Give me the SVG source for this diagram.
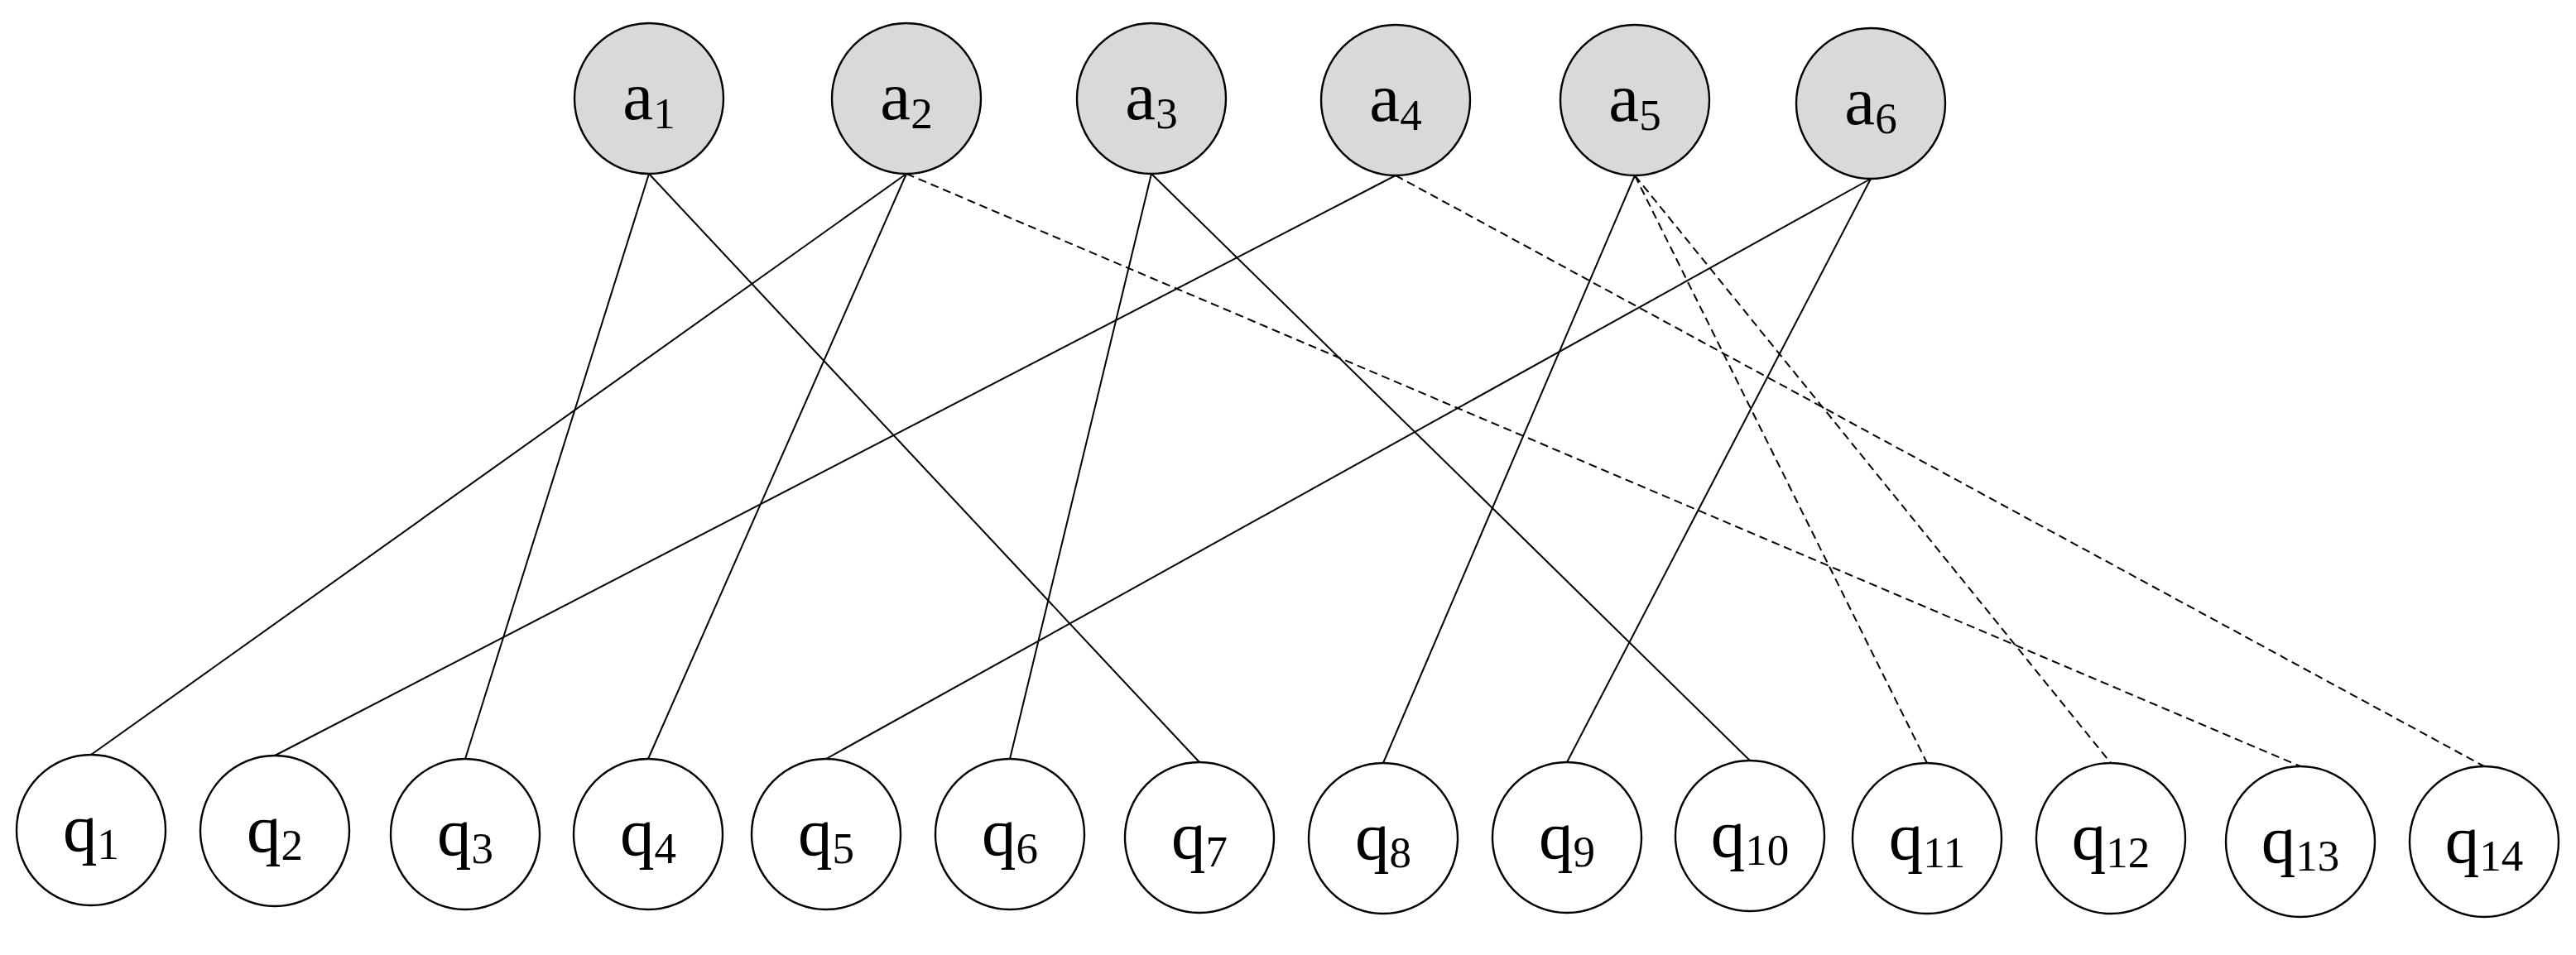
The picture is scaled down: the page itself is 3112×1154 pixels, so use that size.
<svg xmlns="http://www.w3.org/2000/svg" width="3112" height="1154" viewBox="0 0 3112 1154">
<style>
.bg{fill:#ffffff}
.a{fill:#d9d9d9;stroke:#000;stroke-width:2.4}
.q{fill:#ffffff;stroke:#000;stroke-width:2.4}
.lbl{font-family:"Liberation Serif","Times New Roman",serif;font-size:83px;fill:#000;text-anchor:middle}
.sub{font-size:53px}
.e{stroke:#000;stroke-width:2;fill:none}
.d{stroke:#000;stroke-width:2;fill:none;stroke-dasharray:10 6}
</style>
<rect class="bg" x="0" y="0" width="3112" height="1154"/>
<g id="connectors">
<line class="e" x1="784" y1="210" x2="562" y2="917"/>
<line class="e" x1="784" y1="210" x2="1449" y2="921"/>
<line class="e" x1="1095" y1="210" x2="110" y2="912"/>
<line class="e" x1="1095" y1="210" x2="783" y2="917"/>
<line class="d" x1="1095" y1="210" x2="2779" y2="926"/>
<line class="e" x1="1391" y1="210" x2="1220" y2="917"/>
<line class="e" x1="1391" y1="210" x2="2114" y2="919"/>
<line class="e" x1="1686" y1="212" x2="332" y2="913"/>
<line class="d" x1="1686" y1="212" x2="3001" y2="926"/>
<line class="e" x1="1975" y1="212" x2="1671" y2="922"/>
<line class="d" x1="1975" y1="212" x2="2328" y2="922"/>
<line class="d" x1="1975" y1="212" x2="2550" y2="922"/>
<line class="e" x1="2260" y1="216" x2="998" y2="917"/>
<line class="e" x1="2260" y1="216" x2="1893" y2="921"/>
</g>
<g id="a1"><ellipse class="a" cx="784" cy="119" rx="90" ry="91"/><text class="lbl" x="784" y="144">a<tspan class="sub" dy="11">1</tspan></text></g>
<g id="a2"><ellipse class="a" cx="1095" cy="119" rx="90" ry="91"/><text class="lbl" x="1095" y="144">a<tspan class="sub" dy="11">2</tspan></text></g>
<g id="a3"><ellipse class="a" cx="1391" cy="119" rx="90" ry="91"/><text class="lbl" x="1391" y="144">a<tspan class="sub" dy="11">3</tspan></text></g>
<g id="a4"><ellipse class="a" cx="1686" cy="121" rx="90" ry="91"/><text class="lbl" x="1686" y="146">a<tspan class="sub" dy="11">4</tspan></text></g>
<g id="a5"><ellipse class="a" cx="1975" cy="121" rx="90" ry="91"/><text class="lbl" x="1975" y="146">a<tspan class="sub" dy="11">5</tspan></text></g>
<g id="a6"><ellipse class="a" cx="2260" cy="125" rx="90" ry="91"/><text class="lbl" x="2260" y="150">a<tspan class="sub" dy="11">6</tspan></text></g>
<g id="q1"><ellipse class="q" cx="110" cy="1003" rx="90" ry="91"/><text class="lbl" x="110" y="1028">q<tspan class="sub" dy="10">1</tspan></text></g>
<g id="q2"><ellipse class="q" cx="332" cy="1004" rx="90" ry="91"/><text class="lbl" x="332" y="1029">q<tspan class="sub" dy="10">2</tspan></text></g>
<g id="q3"><ellipse class="q" cx="562" cy="1008" rx="90" ry="91"/><text class="lbl" x="562" y="1033">q<tspan class="sub" dy="10">3</tspan></text></g>
<g id="q4"><ellipse class="q" cx="783" cy="1008" rx="90" ry="91"/><text class="lbl" x="783" y="1033">q<tspan class="sub" dy="10">4</tspan></text></g>
<g id="q5"><ellipse class="q" cx="998" cy="1008" rx="90" ry="91"/><text class="lbl" x="998" y="1033">q<tspan class="sub" dy="10">5</tspan></text></g>
<g id="q6"><ellipse class="q" cx="1220" cy="1008" rx="90" ry="91"/><text class="lbl" x="1220" y="1033">q<tspan class="sub" dy="10">6</tspan></text></g>
<g id="q7"><ellipse class="q" cx="1449" cy="1012" rx="90" ry="91"/><text class="lbl" x="1449" y="1037">q<tspan class="sub" dy="10">7</tspan></text></g>
<g id="q8"><ellipse class="q" cx="1671" cy="1013" rx="90" ry="91"/><text class="lbl" x="1671" y="1038">q<tspan class="sub" dy="10">8</tspan></text></g>
<g id="q9"><ellipse class="q" cx="1893" cy="1012" rx="90" ry="91"/><text class="lbl" x="1893" y="1037">q<tspan class="sub" dy="10">9</tspan></text></g>
<g id="q10"><ellipse class="q" cx="2114" cy="1010" rx="90" ry="91"/><text class="lbl" x="2114" y="1035">q<tspan class="sub" dy="10">10</tspan></text></g>
<g id="q11"><ellipse class="q" cx="2328" cy="1013" rx="90" ry="91"/><text class="lbl" x="2328" y="1038">q<tspan class="sub" dy="10">11</tspan></text></g>
<g id="q12"><ellipse class="q" cx="2550" cy="1013" rx="90" ry="91"/><text class="lbl" x="2550" y="1038">q<tspan class="sub" dy="10">12</tspan></text></g>
<g id="q13"><ellipse class="q" cx="2779" cy="1017" rx="90" ry="91"/><text class="lbl" x="2779" y="1042">q<tspan class="sub" dy="10">13</tspan></text></g>
<g id="q14"><ellipse class="q" cx="3001" cy="1017" rx="90" ry="91"/><text class="lbl" x="3001" y="1042">q<tspan class="sub" dy="10">14</tspan></text></g>
</svg>
